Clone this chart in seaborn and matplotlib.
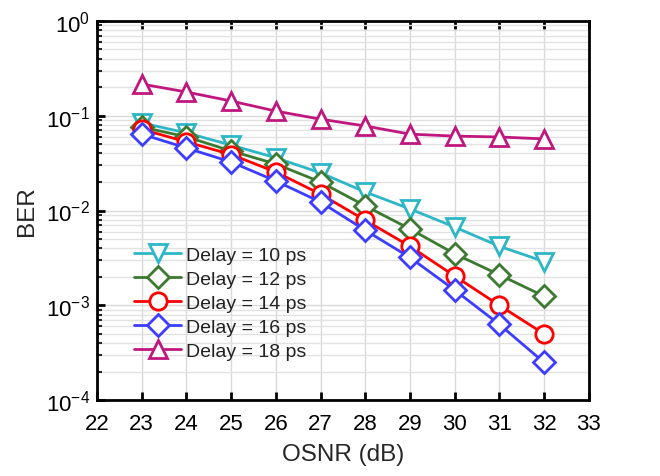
import numpy as np
import pandas as pd
import matplotlib
matplotlib.use("Agg")
import matplotlib.pyplot as plt
import seaborn as sns
from matplotlib.ticker import LogLocator, FixedLocator, NullFormatter

osnr = [23, 24, 25, 26, 27, 28, 29, 30, 31, 32]
ber_10 = [0.084, 0.066, 0.049, 0.036, 0.025, 0.0157, 0.0104, 0.0067, 0.0042, 0.0029]
ber_12 = [0.076, 0.060, 0.0425, 0.031, 0.020, 0.0112, 0.0064, 0.0035, 0.0021, 0.00125]
ber_14 = [0.072, 0.053, 0.039, 0.0255, 0.0149, 0.0079, 0.0042, 0.00204, 0.0010, 0.00050]
ber_16 = [0.064, 0.0457, 0.0325, 0.0205, 0.0123, 0.0062, 0.0032, 0.00145, 0.00063, 0.00025]
ber_18 = [0.216, 0.178, 0.143, 0.112, 0.092, 0.078, 0.064, 0.061, 0.0597, 0.057]
labels = ["Delay = 10 ps", "Delay = 12 ps", "Delay = 14 ps", "Delay = 16 ps", "Delay = 18 ps"]
x_ticks = list(range(22, 34))

series = [ber_10, ber_12, ber_14, ber_16, ber_18]
colors = ["#2DB7C6", "#3B7A30", "#FF0000", "#3D3DFF", "#C0177F"]
markers = ["v", "D", "o", "D", "^"]
msizes = [13.5, 11.5, 12.5, 11.5, 13.5]

sns.set_theme(style="white")
plt.rcParams['font.family'] = ['Liberation Sans', 'DejaVu Sans']
plt.rcParams['mathtext.default'] = 'regular'

fig = plt.figure(figsize=(6.6, 4.77), dpi=100)
ax = fig.add_axes([0.147, 0.159, 0.745, 0.795])

for ys, lab, c, m, ms in zip(series, labels, colors, markers, msizes):
    df = pd.DataFrame({"OSNR": osnr, "BER": ys})
    sns.lineplot(data=df, x="OSNR", y="BER", ax=ax, color=c, marker=m,
                 markersize=ms, markerfacecolor="white", markeredgecolor=c,
                 markeredgewidth=2, linewidth=2, label=lab)

ax.set_yscale("log")
ax.set_ylim(1e-4, 1)
ax.set_xlim(22, 33)
ax.xaxis.set_major_locator(FixedLocator(x_ticks))
ax.yaxis.set_major_locator(LogLocator(base=10, numticks=10))
ax.yaxis.set_minor_locator(LogLocator(base=10, subs=np.arange(2, 10), numticks=50))
ax.yaxis.set_minor_formatter(NullFormatter())

ax.grid(True, which="major", color="#D9D9D9", linewidth=1)
ax.grid(True, which="minor", axis="y", color="#E2E2E2", linewidth=1)
ax.set_axisbelow(True)

for s in ax.spines.values():
    s.set_color("black")
    s.set_linewidth(2)

ax.tick_params(axis="x", which="major", direction="in", length=6, width=2,
               top=True, bottom=True, labelsize=16, pad=9, colors="black")
ax.tick_params(axis="y", which="major", direction="in", length=6, width=2,
               left=True, right=False, labelsize=16, pad=5, colors="black")
ax.tick_params(axis="y", which="minor", direction="in", length=3.5, width=1.5,
               left=True, right=False)

ax.set_xlabel("OSNR (dB)", fontsize=17.5, labelpad=7)
ax.set_ylabel("BER", fontsize=17.5, labelpad=6)

leg = ax.legend(loc="lower left", bbox_to_anchor=(0.06, 0.085), frameon=False,
                fontsize=14, handlelength=2.4, handletextpad=0.25,
                labelspacing=0.33, borderaxespad=0)
for t in leg.get_texts():
    t.set_color("#222222")

fig.savefig("out.png", dpi=100)
